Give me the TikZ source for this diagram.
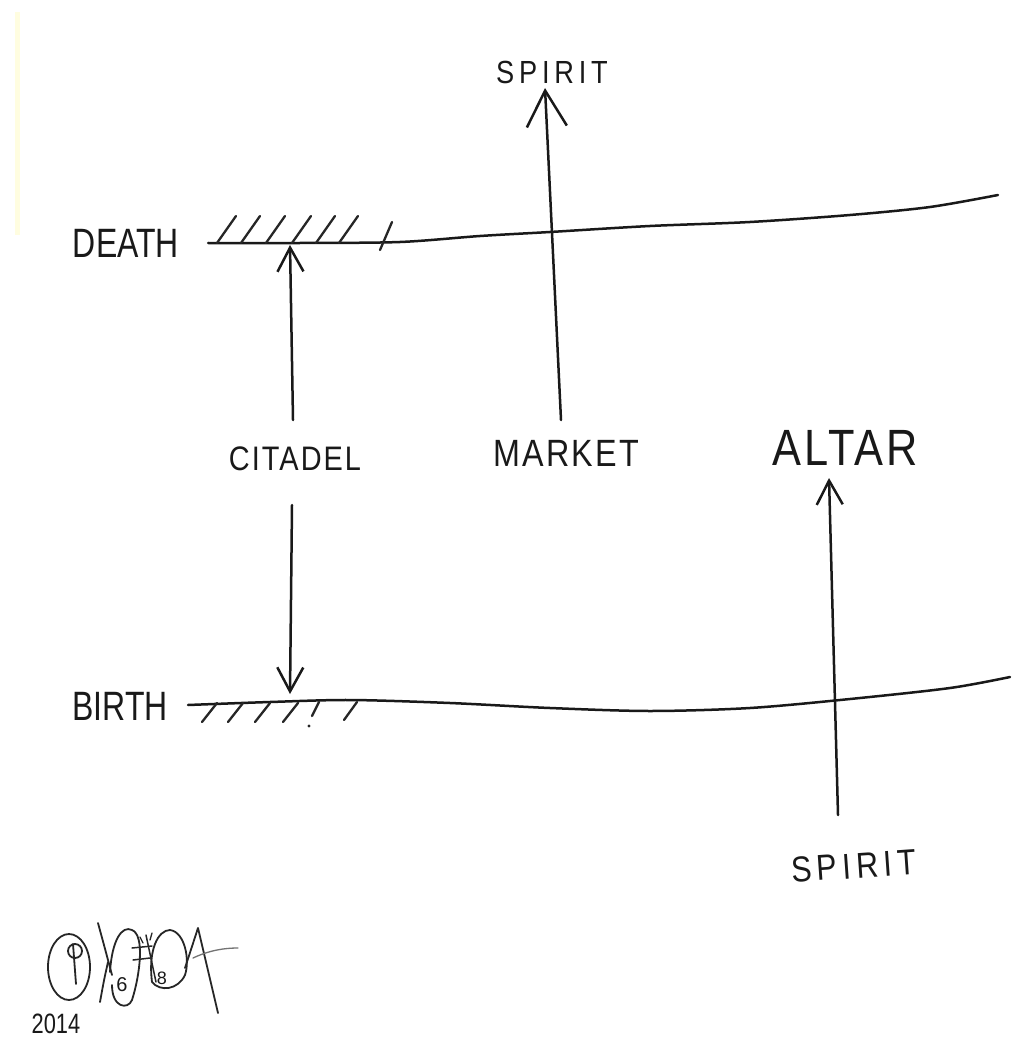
\documentclass[tikz,border=0pt]{standalone}
\usepackage{fontspec}
\setmainfont{Liberation Sans}
\newfontfamily\handA[FakeStretch=0.78]{Liberation Sans}
\newfontfamily\handB[FakeStretch=0.85,LetterSpace=6]{Liberation Sans}
\newfontfamily\handC[FakeStretch=0.85,LetterSpace=15]{Liberation Sans}
\usetikzlibrary{arrows.meta}
\begin{document}
\begin{tikzpicture}[x=1pt,y=-1pt, line cap=round, line join=round,
  ink/.style={line width=2.5pt, draw=black!90},
  hatch/.style={line width=2.3pt, draw=black!85},
  arr/.style={ink, -{Straight Barb[length=24pt,width=26pt]}},
  arrbig/.style={ink, -{Straight Barb[length=36pt,width=40pt]}},
  lbl/.style={inner sep=0pt, text=black!90},
  sig/.style={line width=1.8pt, draw=black!85},
]
\useasboundingbox (0,0) rectangle (1018,1040);
\fill[white] (0,0) rectangle (1018,1040);
% faint paper edge
\fill[yellow!12!white] (15,12) rectangle (20,235);

% labels
\node[lbl, font=\handA\fontsize{41}{41}\selectfont] (death) at (126,243) {DEATH};
\node[lbl, font=\handA\fontsize{41}{41}\selectfont] (birth) at (120,706) {BIRTH};
\node[lbl, font=\handB\fontsize{34}{34}\selectfont] (citadel) at (295,459) {CITADEL};
\node[lbl, font=\handB\fontsize{38}{38}\selectfont] (market) at (566,453) {MARKET};
\node[lbl, font=\handB\fontsize{51}{51}\selectfont] (altar) at (845,448) {ALTAR};
\node[lbl, font=\handC\fontsize{32}{32}\selectfont] (spirittop) at (552,72) {SPIRIT};
\node[lbl, font=\handC\fontsize{36}{36}\selectfont, rotate=4] (spiritbot) at (854,866) {SPIRIT};
\node[lbl, font=\handA\fontsize{28}{28}\selectfont] (year) at (56,1024) {2014};

% death line
\draw[ink] plot[smooth, tension=0.5] coordinates {(208,243) (300,243) (400,242) (480,236) (550,232) (650,226) (750,222) (850,215) (930,207) (998,195)};
\foreach \x in {217,241,266,292,316,339} \draw[hatch] (\x,243) -- ++(19,-27);
\draw[hatch] (380,250) -- (392,222);

% birth line
\draw[ink] plot[smooth, tension=0.5] coordinates {(188,705) (270,702) (350,700) (450,703) (550,708) (650,711) (750,708) (850,699) (950,688) (1010,677)};
\foreach \x in {217,243,270,298} \draw[hatch] (\x,703) -- ++(-15,19);
\draw[hatch] (319,702) -- (312,716);
\fill[black!85] (309,726) circle [radius=1.6];
\draw[hatch] (357,702) -- (344,720);

% connector ends
\coordinate (c1) at (293,420);
\coordinate (dC) at (290,245);
\coordinate (c2) at (292,505);
\coordinate (bC) at (290,694);
\coordinate (m1) at (561,420);
\coordinate (sT) at (545,88);
\coordinate (sB) at (838,815);
\coordinate (a1) at (829,478);

\draw[arr] (c1) -- (dC);
\draw[arr] (c2) -- (bC);
\draw[arrbig] (m1) -- (sT);
\draw[arr] (sB) -- (a1);

% signature
\draw[sig] (69,967) ellipse [x radius=21, y radius=33];
\draw[sig] (75,951) circle [radius=7];
\draw[sig] (73,944) -- (76,984);
\draw[sig] (98,923) .. controls (104,945) .. (112,975);
\draw[sig] (108,962) .. controls (104,980) .. (100,1002);
\draw[sig] (110,972) .. controls (112,940) and (122,925) .. (132,930) .. controls (145,935) and (140,975) .. (132,1000) .. controls (128,1010) and (112,1008) .. (112,985);
\node[lbl, font=\fontsize{20}{20}\selectfont] (six) at (122,985) {6};
\node[lbl, font=\fontsize{18}{18}\selectfont] (eight) at (162,978) {8};
\draw[sig, line width=1.5pt] (132,948) -- (152,946);
\draw[sig, line width=1.5pt] (133,960) -- (150,958);
\draw[sig, line width=1.5pt] (146,935) -- (156,982);
\draw[sig, line width=1.3pt] (140,937) -- (143,943);
\draw[sig, line width=1.3pt] (152,933) -- (150,940);
\draw[sig] (152,982) .. controls (148,950) and (158,930) .. (170,930) .. controls (185,932) and (190,960) .. (185,975) .. controls (178,990) and (160,992) .. (152,982);
\draw[sig] (185,968) -- (198,928) -- (218,1013);
\draw[sig, draw=black!55, line width=1.3pt] (193,958) .. controls (210,950) and (225,948) .. (238,948);
\end{tikzpicture}
\end{document}
